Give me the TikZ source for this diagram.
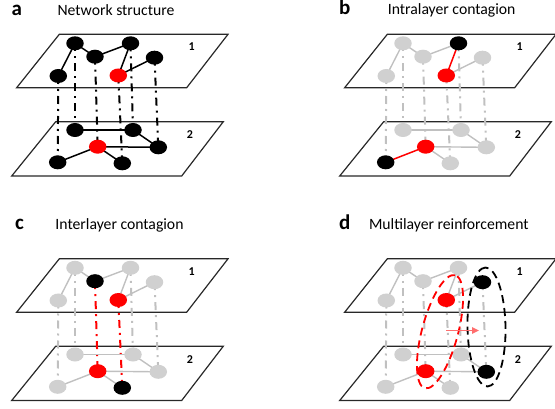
\documentclass[tikz,border=0pt]{standalone}
\usepackage{fontspec}
\setmainfont{Carlito}
\usetikzlibrary{shapes.geometric,arrows.meta}
\definecolor{gynode}{RGB}{208,208,208}
\definecolor{gyline}{RGB}{192,192,192}
\definecolor{pinkred}{RGB}{255,110,110}
\definecolor{planeline}{RGB}{40,40,40}
\tikzset{
 plane/.style={draw=planeline, line width=1.2pt, line join=miter},
 nd/.style={ellipse, minimum width=17.5pt, minimum height=14pt, inner sep=0pt, outer sep=0pt},
 gnode/.style={fill=gynode}, bnode/.style={fill=black}, rnode/.style={fill=red},
 gedge/.style={draw=gyline, line width=1.4pt},
 bedge/.style={draw=black, line width=1.5pt},
 redge/.style={draw=red, line width=1.5pt},
 vpat/.style={line width=2pt, dash pattern=on 8pt off 5pt on 2pt off 5pt},
 gvert/.style={vpat, draw=gyline}, bvert/.style={vpat, draw=black}, rvert/.style={vpat, draw=red},
 ndbase/.style={gnode}, edbase/.style={gedge}, vtbase/.style={gvert},
 nA1/.style={}, nB1/.style={}, nC1/.style={}, nD1/.style={}, nE1/.style={}, nF1/.style={},
 nA2/.style={}, nB2/.style={}, nC2/.style={}, nD2/.style={}, nE2/.style={}, nF2/.style={},
 vA/.style={}, vB/.style={}, vC/.style={}, vD/.style={}, vE/.style={}, vF/.style={},
 eAoneEone/.style={}, eAoneCone/.style={}, eConeBone/.style={}, eBoneFone/.style={}, eFoneDone/.style={},
 eAtwoBtwo/.style={}, eBtwoDtwo/.style={}, eCtwoDtwo/.style={}, eCtwoEtwo/.style={}, eCtwoFtwo/.style={},
 layerlabel/.style={font=\bfseries\fontsize{12}{14}\selectfont},
 paneltitle/.style={anchor=base, font=\fontsize{15.7}{18}\selectfont},
 panelletter/.style={anchor=base west, font=\bfseries\fontsize{21}{24}\selectfont},
 ring/.style={ellipse, line width=1.8pt, dash pattern=on 8pt off 5pt, inner sep=0pt}
}
\newcommand\netpanel[3]{%
\begin{scope}[shift={(#2)},#3]
\draw[plane] (59.3,34.3) -- (228,34.3) -- (186.7,87.7) -- (16.7,87.7) -- cycle;
\draw[plane] (55.7,121.7) -- (223.3,121.7) -- (181.7,176) -- (11.7,176) -- cycle;
\node[layerlabel] (#1Lone) at (191.7,46.7) {1};
\node[layerlabel] (#1Ltwo) at (190,135) {2};
\coordinate (#1A1) at (75,43.3);
\coordinate (#1B1) at (130.5,43.3);
\coordinate (#1C1) at (95,56.7);
\coordinate (#1D1) at (154.5,57.7);
\coordinate (#1E1) at (58.3,76);
\coordinate (#1F1) at (118.3,75.5);
\coordinate (#1A2) at (75,130);
\coordinate (#1B2) at (133,130);
\coordinate (#1C2) at (97.7,146.7);
\coordinate (#1D2) at (158.3,147.3);
\coordinate (#1E2) at (57.7,162.3);
\coordinate (#1F2) at (122.3,163.3);
\draw[vtbase,vA] (#1A1) -- (#1A2);
\draw[vtbase,vB] (#1B1) -- (#1B2);
\draw[vtbase,vC] (#1C1) -- (#1C2);
\draw[vtbase,vD] (#1D1) -- (#1D2);
\draw[vtbase,vE] (#1E1) -- (#1E2);
\draw[vtbase,vF] (#1F1) -- (#1F2);
\draw[edbase,eAoneEone] (#1A1) -- (#1E1);
\draw[edbase,eAoneCone] (#1A1) -- (#1C1);
\draw[edbase,eConeBone] (#1C1) -- (#1B1);
\draw[edbase,eBoneFone] (#1B1) -- (#1F1);
\draw[edbase,eFoneDone] (#1F1) -- (#1D1);
\draw[edbase,eAtwoBtwo] (#1A2) -- (#1B2);
\draw[edbase,eBtwoDtwo] (#1B2) -- (#1D2);
\draw[edbase,eCtwoDtwo] (#1C2) -- (#1D2);
\draw[edbase,eCtwoEtwo] (#1C2) -- (#1E2);
\draw[edbase,eCtwoFtwo] (#1C2) -- (#1F2);
\node[nd,ndbase,nA1] (#1nA1) at (#1A1) {};
\node[nd,ndbase,nB1] (#1nB1) at (#1B1) {};
\node[nd,ndbase,nC1] (#1nC1) at (#1C1) {};
\node[nd,ndbase,nD1] (#1nD1) at (#1D1) {};
\node[nd,ndbase,nE1] (#1nE1) at (#1E1) {};
\node[nd,ndbase,nF1] (#1nF1) at (#1F1) {};
\node[nd,ndbase,nA2] (#1nA2) at (#1A2) {};
\node[nd,ndbase,nB2] (#1nB2) at (#1B2) {};
\node[nd,ndbase,nC2] (#1nC2) at (#1C2) {};
\node[nd,ndbase,nD2] (#1nD2) at (#1D2) {};
\node[nd,ndbase,nE2] (#1nE2) at (#1E2) {};
\node[nd,ndbase,nF2] (#1nF2) at (#1F2) {};
\end{scope}}
\begin{document}
\begin{tikzpicture}[x=1pt,y=-1pt]
\useasboundingbox (0,0) rectangle (555,409);
% panel a
\netpanel{pa}{0,0}{ndbase/.style={bnode}, edbase/.style={bedge}, vtbase/.style={bvert},
  nF1/.style={rnode}, nC2/.style={rnode}}
% panel b
\netpanel{pb}{328,0}{nB1/.style={bnode}, nF1/.style={rnode}, nC2/.style={rnode}, nE2/.style={bnode},
  eBoneFone/.style={redge}, eCtwoEtwo/.style={redge}}
% panel c
\netpanel{pc}{0,224.5}{nC1/.style={bnode}, nF1/.style={rnode}, nC2/.style={rnode}, nF2/.style={bnode},
  vC/.style={rvert}, vF/.style={rvert}}
% panel d
\netpanel{pd}{328,224.5}{nF1/.style={rnode}, nD1/.style={bnode}, nC2/.style={rnode}, nD2/.style={bnode}}
% rings and arrow in panel d
\node[ring, draw=red, minimum width=117pt, minimum height=36pt, rotate=75] (redring) at (440,331.7) {};
\node[ring, draw=black, minimum width=119pt, minimum height=38pt, rotate=91] (blackring) at (486.5,327) {};
\coordinate (arrS) at (446,330.5);
\coordinate (arrE) at (479,330.5);
\draw[pinkred, line width=1.5pt, -{Triangle[length=7pt,width=6.5pt]}] (arrS) -- (arrE);
% titles
\node[panelletter] (la) at (8,16) {a};
\node[paneltitle] (ta) at (116,16) {Network structure};
\node[panelletter] (lb) at (335.5,15) {b};
\node[paneltitle] (tb) at (451.7,15) {Intralayer contagion};
\node[panelletter] (lc) at (11.5,230) {c};
\node[paneltitle] (tc) at (119.5,229.5) {Interlayer contagion};
\node[panelletter] (ld) at (335.5,230) {d};
\node[paneltitle] (td) at (448.8,229.5) {Multilayer reinforcement};
\end{tikzpicture}
\end{document}
